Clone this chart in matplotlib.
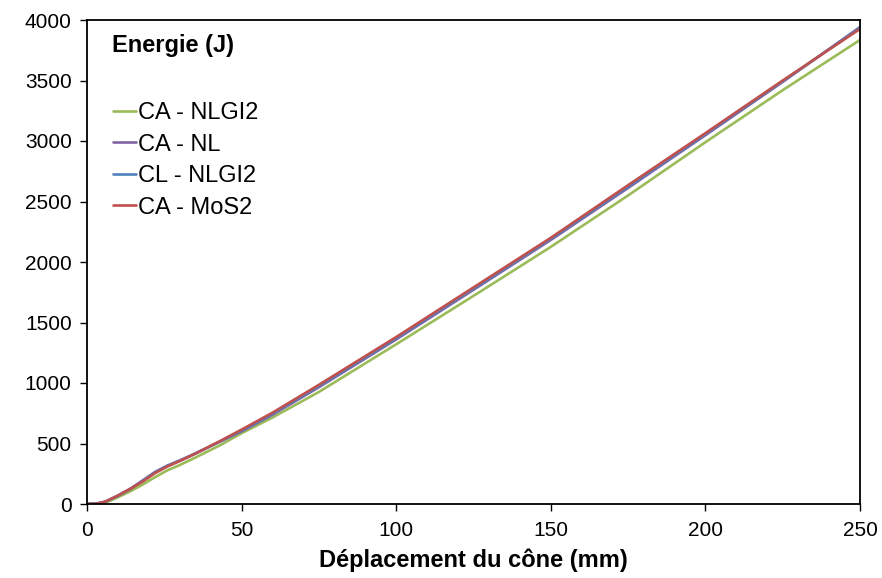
import matplotlib
matplotlib.use("Agg")
import matplotlib.pyplot as plt

plt.rcParams['font.family'] = ['Liberation Sans', 'DejaVu Sans']

x_mm = [0, 3, 6, 10, 14, 18, 22, 26, 30, 35, 43, 50, 60, 75, 100, 125, 150, 175, 200, 225, 250]

ca_nlgi2 = [0, 0, 12, 55, 105, 160, 222, 278, 322, 383, 485, 585, 715, 926, 1320, 1720, 2125, 2550, 2990, 3420, 3835]
ca_nl = [0, 2, 20, 68, 125, 195, 265, 318, 360, 418, 515, 600, 738, 965, 1360, 1770, 2182, 2612, 3048, 3488, 3942]
cl_nlgi2 = [0, 2, 20, 69, 125, 190, 260, 314, 357, 416, 517, 607, 746, 975, 1370, 1780, 2191, 2623, 3056, 3494, 3934]
ca_mos2 = [0, 2, 20, 70, 125, 185, 255, 310, 355, 415, 520, 615, 755, 985, 1380, 1790, 2200, 2635, 3065, 3500, 3926]

series = [
    ("CA - NLGI2", ca_nlgi2, "#9BBB59"),
    ("CA - NL", ca_nl, "#8064A2"),
    ("CL - NLGI2", cl_nlgi2, "#4F81BD"),
    ("CA - MoS2", ca_mos2, "#C0504D"),
]

x_ticks = [0, 50, 100, 150, 200, 250]
y_ticks = [0, 500, 1000, 1500, 2000, 2500, 3000, 3500, 4000]

fig = plt.figure(figsize=(8.82, 5.78), dpi=100)
ax = fig.add_axes([87/882, (578-504)/578, (860-87)/882, (504-20)/578])

for name, ys, col in series:
    ax.plot(x_mm, ys, color=col, lw=1.9, label=name, solid_capstyle='round')

ax.set_xlim(0, 250)
ax.set_ylim(0, 4000)
ax.set_xticks(x_ticks)
ax.set_yticks(y_ticks)
ax.tick_params(direction='out', length=5, width=1, labelsize=15, colors='black')
ax.tick_params(axis='x', pad=7)
ax.tick_params(axis='y', pad=6)
for s in ax.spines.values():
    s.set_linewidth(1.3)
    s.set_color('black')

ax.set_xlabel("Déplacement du cône (mm)", fontsize=17, fontweight='bold', labelpad=6)

ax.text(0.032, 0.948, "Energie (J)", transform=ax.transAxes, fontsize=17,
        fontweight='bold', ha='left', va='center')

leg = ax.legend(loc='upper left', bbox_to_anchor=(0.033, 0.83), frameon=False,
                fontsize=17, handlelength=1.0, handletextpad=0.1,
                labelspacing=0.4, borderaxespad=0, borderpad=0)

fig.savefig("out.png", dpi=100)
